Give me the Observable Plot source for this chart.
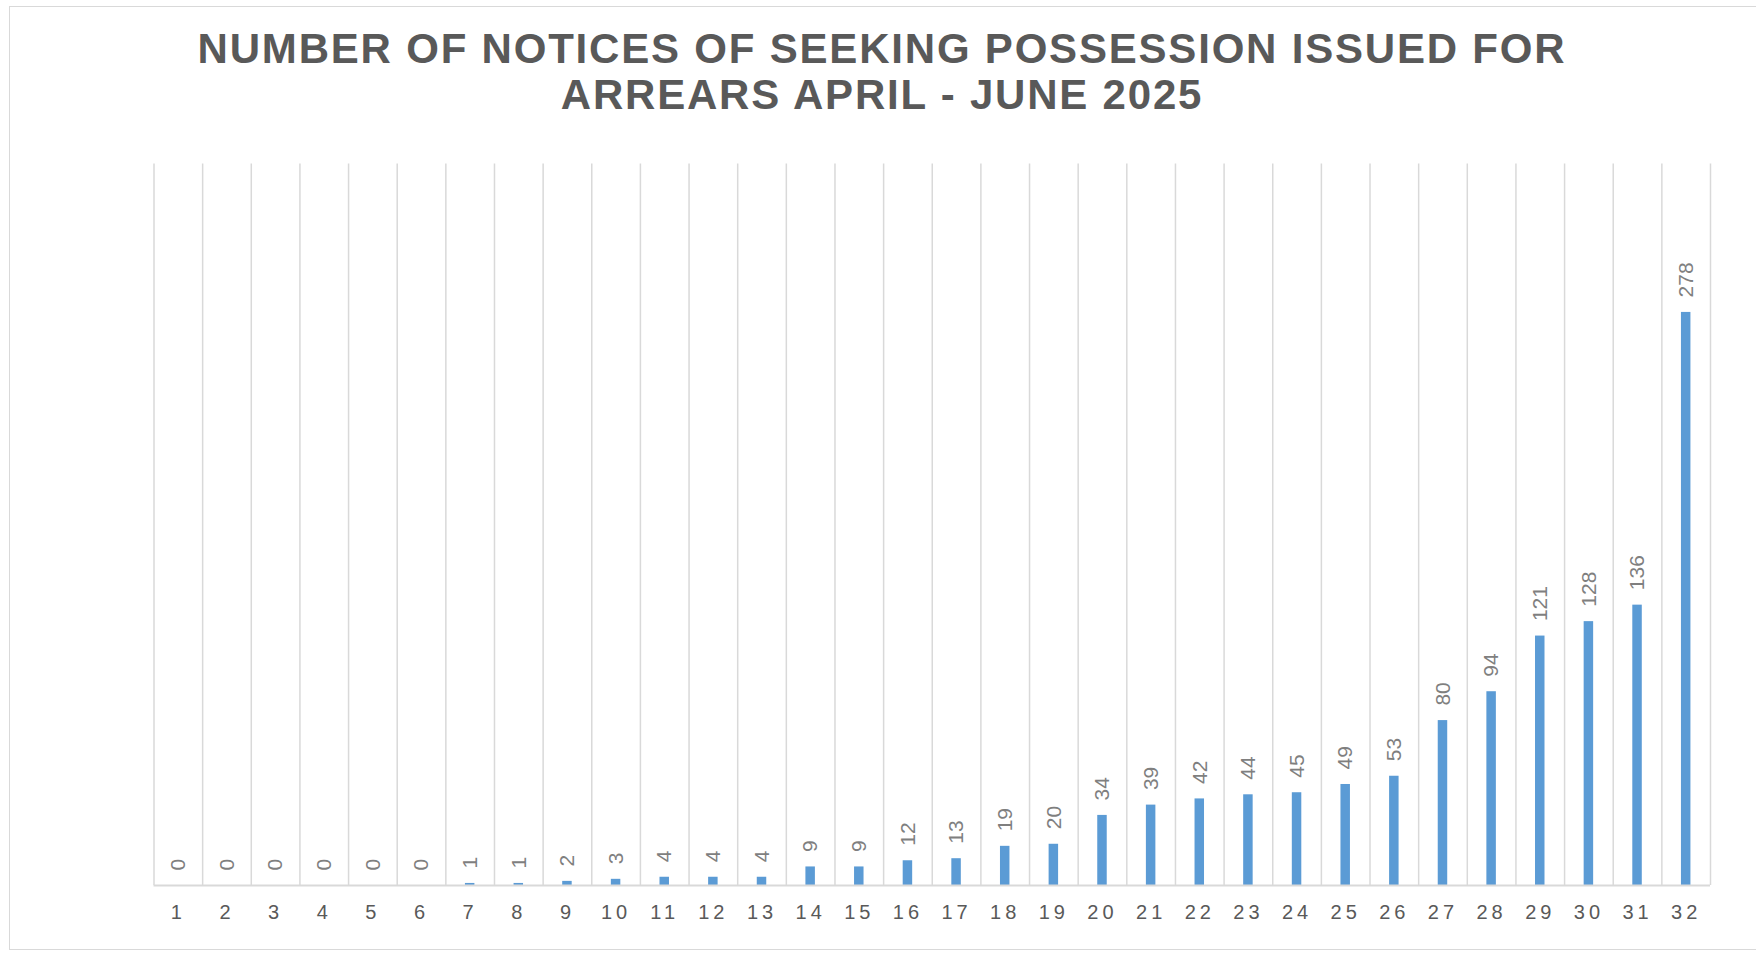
<!DOCTYPE html>
<html>
<head>
<meta charset="utf-8">
<script src="https://cdn.jsdelivr.net/npm/d3@7"></script>
<script src="https://cdn.jsdelivr.net/npm/@observablehq/plot@0.6"></script>
<style>
  html, body { margin: 0; padding: 0; background: #fff; overflow: hidden; }
  #wrap { position: relative; width: 1756px; height: 953px; overflow: hidden; font-family: "Liberation Sans", Arial, sans-serif; }
  #frame { position: absolute; left: 9px; top: 6px; width: 1800px; height: 944px; border: 1.5px solid #d9d9d9; border-right: none; box-sizing: border-box; pointer-events: none; }
  #title { position: relative; width: 1764px; height: 120px; box-sizing: border-box; padding-top: 25.7px; text-align: center;
           font-size: 42px; line-height: 46px; font-weight: bold; letter-spacing: 1.8px; color: #595959; }
  #chart svg { display: block; }
  #chart [aria-label="x-axis tick label"] text { letter-spacing: 4px; }
</style>
</head>
<body>
<div id="wrap">
  <div id="frame"></div>
  <div id="title">NUMBER OF NOTICES OF SEEKING POSSESSION ISSUED FOR<br>ARREARS APRIL - JUNE 2025</div>
  <div id="chart"></div>
</div>
<script>
const categories = [1,2,3,4,5,6,7,8,9,10,11,12,13,14,15,16,17,18,19,20,21,22,23,24,25,26,27,28,29,30,31,32];
const values = [0,0,0,0,0,0,1,1,2,3,4,4,4,9,9,12,13,19,20,34,39,42,44,45,49,53,80,94,121,128,136,278];

const data = categories.map((c, i) => ({cat: c, value: values[i]}));
const boundaries = categories.map(c => c - 0.5).concat([categories[categories.length - 1] + 0.5]);
const half = 0.0975;

const chart = Plot.plot({
  width: 1756,
  height: 833,
  marginTop: 43.5,
  marginBottom: 68,
  marginLeft: 153.5,
  marginRight: 46,
  style: {fontFamily: '"Liberation Sans", Arial, sans-serif', background: "transparent"},
  x: {type: "linear", domain: [0.5, 32.5], axis: null},
  y: {domain: [0, 350], axis: null},
  marks: [
    Plot.ruleX(boundaries, {stroke: "#d9d9d9", strokeWidth: 1.5}),
    Plot.rectY(data, {x1: d => d.cat - half, x2: d => d.cat + half, y1: d => 0, y2: "value", fill: "#5b9bd5"}),
    Plot.ruleY([0], {stroke: "#d9d9d9", strokeWidth: 2}),
    Plot.text(data, {x: "cat", y: "value", text: d => String(d.value), rotate: -90, textAnchor: "start", lineAnchor: "middle", dy: -15, fontSize: 21, fill: "#7f7f7f"}),
    Plot.axisX({ticks: categories, tickFormat: d => String(d), tickSize: 0, tickPadding: 19, fontSize: 20, fill: "#595959", label: null})
  ]
});
document.getElementById("chart").appendChild(chart);
</script>
</body>
</html>
